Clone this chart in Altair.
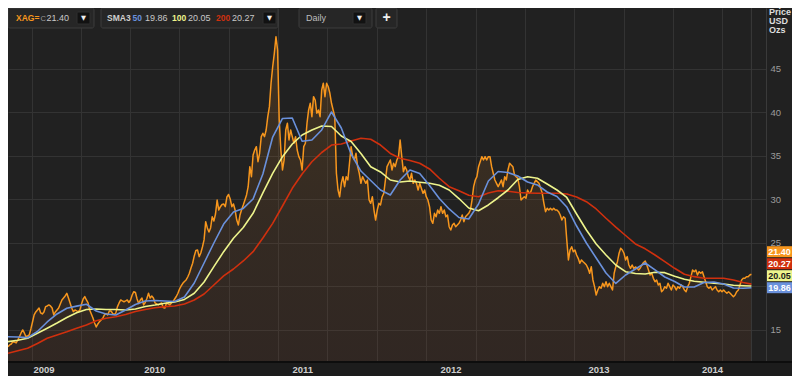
import altair as alt
import pandas as pd

# ---------------- data ----------------
price = [
    13.08, 13.28, 13.39, 13.66, 13.62, 13.51, 13.85, 14.23, 14.66, 15.00,
    14.66, 14.23, 14.31, 14.43, 15.12, 15.92, 16.73, 17.07, 17.30, 17.53,
    16.96, 16.84, 17.07, 17.68, 17.76, 17.88, 17.76, 17.53, 16.73, 17.07,
    17.30, 17.53, 17.99, 18.45, 18.68, 18.91, 19.22, 18.68, 18.11, 17.53,
    17.11, 17.30, 17.19, 17.11, 17.30, 17.99, 18.56, 18.83, 18.45, 18.11,
    17.30, 16.84, 16.38, 15.81, 15.35, 15.69, 15.96, 16.15, 16.35, 16.73,
    16.90, 16.73, 17.19, 17.19, 16.92, 16.78, 16.96, 17.68, 18.11, 18.45,
    18.34, 18.25, 18.34, 18.45, 18.16, 18.45, 19.02, 19.40, 19.31, 18.56,
    18.05, 18.45, 18.68, 17.88, 18.16, 18.62, 19.22, 18.68, 18.91, 18.68,
    18.11, 17.99, 17.88, 17.99, 18.11, 17.59, 17.53, 18.11, 17.99, 17.88,
    18.11, 18.25, 18.56, 18.85, 19.22, 19.71, 20.06, 20.37, 20.58, 20.75,
    21.09, 21.52, 22.13, 22.67, 23.51, 24.14, 24.20, 23.43, 23.85, 24.54,
    25.35, 27.45, 26.73, 26.27, 26.73, 28.02, 27.53, 28.33, 29.94, 28.79,
    29.17, 29.43, 29.48, 29.17, 30.29, 30.58, 30.06, 29.17, 29.48, 28.79,
    27.64, 27.07, 28.22, 28.85, 29.37, 29.94, 30.52, 31.47, 33.77, 32.62,
    35.12,
    35.69, 36.07, 34.34, 35.31, 37.22, 37.61, 37.22, 37.99, 39.52, 40.67,
    43.36, 45.26, 46.80, 48.71, 47.18, 39.14, 35.69, 33.39, 34.54, 37.99,
    38.76, 36.84, 37.99, 37.22, 36.46, 37.22, 35.69, 34.92, 34.54, 33.39,
    36.07, 36.46, 38.76, 40.29, 41.06, 39.52, 41.82, 41.44, 39.91, 40.29,
    39.52, 42.59, 43.36, 41.82, 43.36, 42.96, 42.21, 41.06, 40.29, 39.52,
    33.01, 31.09, 30.32, 31.86, 32.62, 31.47, 32.62, 32.24, 34.16, 36.07,
    34.92, 34.54, 35.31, 33.77, 33.01, 31.86, 32.62, 32.24, 31.86, 32.24,
    29.94, 29.56, 30.32, 28.79, 27.64, 28.79, 29.56,
    29.37, 30.32, 30.71, 32.24, 33.77, 34.16, 34.54, 33.39, 34.16, 33.77,
    34.54, 34.92, 36.84, 34.92, 33.20, 33.77, 33.39, 32.62, 32.24, 33.01,
    31.86, 32.24, 31.86, 31.09, 31.86, 31.29, 30.71, 31.09, 30.32, 29.94,
    29.17, 27.64, 27.26, 28.41, 28.02, 28.79, 28.41, 29.17, 28.41, 28.79,
    28.02, 28.22, 26.87, 26.49, 27.07, 27.26, 26.87, 27.07, 27.26, 27.64,
    28.22, 27.45, 28.02, 28.22, 28.41, 28.79, 29.94, 31.47, 32.24, 32.62,
    33.77, 34.34, 34.92, 34.54, 34.92, 34.54, 34.92, 34.92, 33.77, 33.01,
    32.24, 31.86, 31.47, 31.86, 32.24, 31.47, 32.62, 32.24,
    33.39, 34.16, 33.96, 33.77, 32.82, 32.62, 32.44, 31.47, 29.94, 30.14,
    30.32, 30.14, 31.09, 30.71, 30.90, 31.47, 31.86, 32.24, 32.05, 31.86,
    31.29, 30.71, 29.56, 28.60, 28.99, 28.79, 28.99, 28.79, 28.99, 28.79,
    28.79, 28.60, 28.22, 27.64, 28.02, 27.84, 25.34, 23.05, 24.19, 24.57,
    24.00, 24.19, 23.62, 23.24, 22.67, 23.05, 22.85, 22.67, 22.47, 22.09,
    21.52, 22.28, 20.75, 19.98, 19.02, 19.60, 19.98, 19.79, 20.37, 19.98,
    20.55, 19.98, 20.37, 19.98, 19.60, 21.52, 22.28, 22.85, 23.82, 24.39,
    24.19, 23.82, 23.05, 23.43, 22.47, 22.09, 22.47, 22.09, 22.24, 22.13,
    21.90, 22.13, 22.47, 22.76, 22.93,
    22.47, 21.90, 21.32, 21.52, 20.94, 20.55, 20.75, 20.17, 20.37, 19.40,
    19.60, 19.98, 19.79, 20.37, 19.98, 19.60, 20.17, 19.98, 19.60, 19.98,
    19.79, 20.17, 19.98, 19.60, 19.40, 19.98, 20.37, 21.13, 21.90, 21.70,
    21.90, 21.32, 21.70, 21.52, 21.70, 21.13, 20.55, 19.98, 19.79, 19.98,
    19.60, 19.79, 19.98, 19.60, 19.40, 19.60, 19.40, 19.60, 19.40, 19.22,
    19.40, 19.22, 19.02, 18.83, 19.02, 19.40, 19.60, 20.17, 20.75, 20.94,
    20.94, 21.13, 21.13, 21.32, 21.40,
]

sma50 = [
    14.23, 14.20, 14.12, 14.83, 15.92, 16.84, 17.50, 17.74, 17.96, 17.18,
    16.84, 16.72, 17.30, 17.93, 18.33, 18.39, 18.33, 18.28, 18.79, 20.40,
    22.70, 25.00, 27.18, 28.56, 28.97, 30.06, 32.93, 37.18, 39.31, 39.37,
    36.70, 36.84, 37.99, 40.06, 38.22, 35.23, 33.27, 32.18, 31.09, 30.52,
    32.24, 33.39, 32.99, 31.61, 30.12, 28.91, 27.93, 27.76, 29.48, 32.13,
    33.22, 33.10, 32.70, 32.01, 31.67, 30.86, 30.35, 29.14, 26.95, 25.00,
    23.27, 21.55, 20.35, 21.32, 22.01, 22.70, 21.90, 21.09, 20.57, 19.94,
    19.94, 20.46, 20.52, 20.29, 19.83, 19.80, 19.86,
]
sma100 = [
    13.66, 13.82, 14.05, 14.62, 15.20, 15.80, 16.44, 16.99, 17.36, 17.41,
    17.36, 17.36, 17.30, 17.41, 17.70, 17.87, 18.07, 18.22, 18.51, 19.22,
    20.52, 22.28, 24.00, 25.54, 26.78, 28.41, 30.75, 33.01, 34.92, 36.38,
    37.41, 37.99, 38.45, 38.39, 37.30, 36.67, 35.29, 33.77, 33.16, 32.24,
    32.01, 32.13, 31.99, 31.86, 31.63, 31.09, 30.11, 29.02, 28.71, 29.37,
    30.20, 31.09, 32.30, 32.62, 32.44, 31.78, 31.09, 30.23, 28.33, 26.49,
    24.89, 23.62, 22.47, 21.70, 21.49, 21.44, 21.63, 21.59, 21.18, 20.83,
    20.61, 20.48, 20.37, 20.29, 20.14, 20.09, 20.05,
]
sma200 = [
    12.32, 12.62, 12.90, 13.45, 14.05, 14.43, 14.80, 15.20, 15.57, 16.07,
    16.35, 16.53, 16.78, 17.13, 17.36, 17.55, 17.68, 17.76, 17.99, 18.45,
    19.14, 20.17, 21.21, 22.01, 22.93, 24.00, 25.57, 27.26, 29.25, 31.29,
    32.93, 34.34, 35.40, 36.26, 36.38, 36.72, 37.03, 36.92, 36.26, 35.29,
    34.74, 34.48, 34.16, 33.51, 32.44, 31.47, 31.01, 30.48, 30.32, 30.75,
    31.01, 30.95, 30.81, 30.75, 30.71, 30.71, 30.71, 30.63, 30.29, 29.75,
    28.91, 27.84, 26.82, 25.86, 24.89, 24.33, 23.62, 22.85, 22.09, 21.40,
    21.13, 20.94, 20.94, 20.94, 20.75, 20.46, 20.27,
]

first_day = "2009-07-05"
last_day = "2014-07-13"
axis_end = "2014-08-18"
price_ticks = [15, 20, 25, 30, 35, 40, 45]
year_labels = ["2009", "2010", "2011", "2012", "2013", "2014"]
year_label_days = ["2009-10-02", "2010-07-02", "2011-07-02", "2012-07-02",
                   "2013-07-02", "2014-04-08"]
symbol = "XAG="
study = "SMA3"
periods = ["50", "100", "200"]
interval = "Daily"
unit_lines = ["Price", "USD", "Ozs"]

# ---------------- styling / layout ----------------
FONT = "Liberation Sans"
NARROW = "Liberation Sans Narrow, Arial Narrow, Liberation Sans"
SYM = "DejaVu Sans"
BG = "#212121"
GRID = "#333333"
ORANGE = "#f7961d"
BLUE = "#6a91dc"
YELLOW = "#eef48c"
RED = "#d0300e"
W, H = 758, 354
PAD_R, PAD_B = 26, 14
Y_BOT, Y_TOP = 11.32, 52.01


def dt(s):
    t = pd.Timestamp(s)
    return alt.DateTime(year=t.year, month=t.month, date=t.day)


def ypix(v):
    return (Y_TOP - v) / (Y_TOP - Y_BOT) * H


dates = pd.date_range(first_day, last_day, periods=len(price))
sma_dates = dates[list(range(0, len(price) - 5, 6)) + [len(price) - 1]]
grid_days = pd.date_range("2009-09-01", "2014-05-01", freq="4MS")

df_price = pd.DataFrame({"date": dates, "value": price})
df50 = pd.DataFrame({"date": sma_dates, "value": sma50})
df100 = pd.DataFrame({"date": sma_dates, "value": sma100})
df200 = pd.DataFrame({"date": sma_dates, "value": sma200})
df_years = pd.DataFrame({"date": pd.to_datetime(year_label_days), "label": year_labels})
ONE = pd.DataFrame({"k": [0]})

xs = alt.Scale(domain=[dt(first_day), dt(axis_end)])
ys = alt.Scale(domain=[Y_BOT, Y_TOP], nice=False, zero=False)
x_axis = alt.Axis(values=[dt(d) for d in grid_days], grid=True, gridColor=GRID,
                  labels=False, ticks=False, domain=False, title=None)
y_axis = alt.Axis(orient="right", values=price_ticks, grid=True, gridColor=GRID,
                  labelColor="#9c9c9c", labelFont=FONT, labelFontSize=9.5,
                  labelPadding=4, ticks=False, domain=True, domainColor="#3a3a3a",
                  labelExpr="datum.value == 20 ? '' : datum.label", title=None)
x_enc = alt.X("date:T", scale=xs, axis=x_axis)
y_enc = alt.Y("value:Q", scale=ys, axis=y_axis)


def box(x0, x1, y0, y1, fill, stroke=None, radius=0):
    kw = dict(fill=fill, cornerRadius=radius)
    if stroke:
        kw["stroke"] = stroke
        kw["strokeWidth"] = 1
    return alt.Chart(ONE).mark_rect(**kw).encode(
        x=alt.value(x0), x2=alt.value(x1), y=alt.value(y0), y2=alt.value(y1))


def label(x, y, text, color, size=9, weight="normal", align="left", font=FONT):
    return alt.Chart(ONE).mark_text(text=text, color=color, fontSize=size,
                                    fontWeight=weight, align=align,
                                    baseline="middle", font=font).encode(
        x=alt.value(x), y=alt.value(y))


def line(df, color, width):
    return alt.Chart(df).mark_line(color=color, strokeWidth=width, clip=True,
                                   strokeJoin="round").encode(x=x_enc, y=y_enc)


grad = alt.Gradient(gradient="linear", x1=0, x2=0, y1=0, y2=1,
                    stops=[alt.GradientStop(color="#f7961d", offset=0),
                           alt.GradientStop(color="#a0602c", offset=0.45),
                           alt.GradientStop(color="#78372a", offset=1)])

area = alt.Chart(df_price).mark_area(fill=grad, fillOpacity=0.15, clip=True).encode(
    x=x_enc, y=y_enc, y2=alt.value(H))
end_rule = alt.Chart(pd.DataFrame({"date": [dates[-1]]})).mark_rule(
    color="#3a3a3a", strokeWidth=1).encode(x=x_enc)

layers = [area, end_rule,
          line(df_price, ORANGE, 1.5),
          line(df200, RED, 1.6),
          line(df100, YELLOW, 1.6),
          line(df50, BLUE, 1.6)]

# bottom strip with year labels
layers += [
    box(0, W + PAD_R, H, H + PAD_B, "#1c1c1c"),
    alt.Chart(ONE).mark_rule(color="#0d0d0d", strokeWidth=2).encode(
        x=alt.value(0), x2=alt.value(W + PAD_R), y=alt.value(H)),
    alt.Chart(df_years).mark_text(color="#cfcfcf", font=NARROW, fontSize=9.5,
                                  fontWeight="bold", baseline="middle").encode(
        x=x_enc, y=alt.value(H + 7.5), text="label:N"),
]

# toolbar
TB = "#262626"
TBS = "#3c3c3c"
VAL = "#c8c8c8"
for x0, x1 in [(0, 86), (93, 270), (291, 364), (368, 389)]:
    layers.append(box(x0, x1, 0, 20, TB, TBS, 2))
for x0, x1 in [(69, 82), (255, 268), (345, 358)]:
    layers.append(box(x0, x1, 4, 16, "#121212", "#2e2e2e", 1))
    layers.append(label((x0 + x1) / 2, 10, "\u25bc", "#eeeeee", 6.5, align="center", font=SYM))

layers += [
    label(8, 10, symbol, ORANGE, 8.5, "bold"),
    label(32.5, 10.5, "C", "#9a9a9a", 7.5),
    label(38.5, 10, f"{price[-1]:.2f}", VAL, 9),
    label(99, 10, study, "#cfcfcf", 8.5, "bold"),
    label(124.5, 10, periods[0], BLUE, 8.5, "bold"),
    label(137, 10, f"{sma50[-1]:.2f}", VAL, 9),
    label(164, 10, periods[1], YELLOW, 8.5, "bold"),
    label(180, 10, f"{sma100[-1]:.2f}", VAL, 9),
    label(208, 10, periods[2], RED, 8.5, "bold"),
    label(224, 10, f"{sma200[-1]:.2f}", VAL, 9),
    label(298, 10, interval, "#bdbdbd", 9),
    label(378.5, 10, "+", "#f0f0f0", 14, "bold", align="center"),
]

# last-value badges on the right
badges = [(sma50[-1], BLUE, "#ffffff"), (sma100[-1], YELLOW, "#1a1a1a"),
          (sma200[-1], RED, "#ffffff"), (price[-1], ORANGE, "#ffffff")]
base = ypix(sma50[-1])
for k, (v, fill, tcol) in enumerate(badges):
    cy = base - 12 * k
    layers.append(box(W + 1, W + PAD_R, cy - 5.5, cy + 5.5, fill))
    layers.append(label(W + 13.5, cy + 0.5, f"{v:.2f}", tcol, 9, "bold", align="center"))

# unit text top right
for k, t in enumerate(unit_lines):
    layers.append(label(W + 3, 4 + 9 * k, t, "#dddddd", 9, "bold"))

chart = alt.layer(*layers).properties(
    width=W, height=H,
    padding={"left": 0, "top": 0, "right": PAD_R, "bottom": PAD_B},
    autosize=alt.AutoSizeParams(type="none"),
).configure(background=BG).configure_view(strokeWidth=0)

chart.save("out.html", embed_options={"renderer": "svg", "actions": False})
